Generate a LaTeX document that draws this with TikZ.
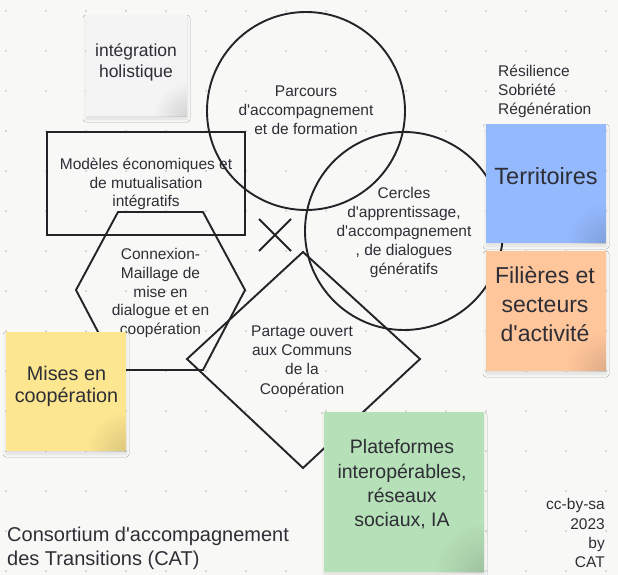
\documentclass[tikz,border=0pt]{standalone}
\usepackage{fontspec}
\setmainfont{Liberation Sans}[Ligatures=TeXOff]
\usetikzlibrary{shadows.blur,fadings}
\definecolor{bg}{HTML}{F8F8F6}
\definecolor{dotc}{HTML}{C6C6C6}
\definecolor{ink}{HTML}{232328}
\definecolor{txt}{HTML}{2E2E36}
\definecolor{notegray}{HTML}{F4F4F4}
\definecolor{noteblue}{HTML}{94B9FD}
\definecolor{notepeach}{HTML}{FFC69B}
\definecolor{noteyellow}{HTML}{FDE690}
\definecolor{notegreen}{HTML}{B6E0B7}
\tikzfading[name=cornerfade, inner color=transparent!0, outer color=transparent!100]
\begin{document}
\begin{tikzpicture}[x=1pt,y=-1pt,
  outline/.style={draw=ink, line width=1.9pt, line join=miter},
  lbl/.style={text=txt, font=\fontsize{15.5}{19}\selectfont, align=center, inner sep=0pt},
  note/.style={inner sep=0pt, draw=none,
    blur shadow={shadow xshift=0pt, shadow yshift=-3pt, shadow blur radius=3pt, shadow opacity=10}},
  notetxt/.style={text=txt, align=center, inner sep=0pt},
]
\fill[bg] (0,0) rectangle (618,575);
\useasboundingbox (0,0) rectangle (618,575);
\foreach \i in {0,...,15}{\foreach \j in {0,...,14}{\fill[dotc] (6+40*\i,11+40*\j) circle (1pt);}}

% circles
\node[outline, circle, minimum size=198pt, inner sep=0pt] (c1) at (306,111) {};
\node[lbl] (t1) at (306,110) {Parcours\\d'accompagnement\\et de formation};
\node[outline, circle, minimum size=198pt, inner sep=0pt] (c2) at (404,231) {};
\node[lbl] (t2) at (404,232.5) {Cercles\\d'apprentissage,\\d'accompagnement\\, de dialogues\\génératifs};

% rectangle
\node[outline, rectangle, minimum width=198pt, minimum height=103pt, inner sep=0pt] (r1) at (146,183.5) {};
\node[lbl, font=\fontsize{15.5}{18.4}\selectfont] (t3) at (146,184) {Modèles économiques et\\de mutualisation\\intégratifs};

% hexagon
\coordinate (h1) at (118,212);
\coordinate (h2) at (203,212);
\coordinate (h3) at (245,290);
\coordinate (h4) at (203,370);
\coordinate (h5) at (118,370);
\coordinate (h6) at (76,290);
\draw[outline] (h1) -- (h2) -- (h3) -- (h4) -- (h5) -- (h6) -- cycle;
\node[lbl, font=\fontsize{15.5}{18.8}\selectfont] (t4) at (160.5,293) {Connexion-\\Maillage de\\mise en\\dialogue et en\\coopération};

% diamond
\coordinate (d1) at (303,252);
\coordinate (d2) at (420,359);
\coordinate (d3) at (303,468);
\coordinate (d4) at (187,359);
\draw[outline] (d1) -- (d2) -- (d3) -- (d4) -- cycle;
\node[lbl, font=\fontsize{15.5}{19.4}\selectfont] (t5) at (302,361.5) {Partage ouvert\\aux Communs\\de la\\Coopération};

% cross
\coordinate (x1) at (259,219);
\coordinate (x2) at (291,251);
\coordinate (x3) at (291,219);
\coordinate (x4) at (259,251);
\draw[outline] (x1) -- (x2) (x3) -- (x4);

% sticky notes
\node[note, fill=notegray, minimum width=101pt, minimum height=101pt] (n1) at (136.5,65.5) {};
\node[note, fill=noteblue, minimum width=120pt, minimum height=119pt] (n2) at (546,183.5) {};
\node[note, fill=notepeach, minimum width=120pt, minimum height=120pt] (n3) at (546,311) {};
\node[note, fill=noteyellow, minimum width=120pt, minimum height=119pt] (n4) at (66,391.5) {};
\node[note, fill=notegreen, minimum width=160pt, minimum height=160pt] (n5) at (404,492) {};
\foreach \n/\r in {n1/34,n2/40,n3/40,n4/40,n5/50}{
  \begin{scope}
    \clip (\n.south west) rectangle (\n.north east);
    \fill[black, opacity=0.13, path fading=cornerfade] (\n.south east) circle (\r pt);
  \end{scope}
}
\node[notetxt, font=\fontsize{17.5}{21}\selectfont] (nt1) at (136,62) {intégration\\holistique};
\node[notetxt, font=\fontsize{23.5}{28}\selectfont] (nt2) at (546,176.5) {Territoires};
\node[notetxt, font=\fontsize{23}{29}\selectfont] (nt3) at (545,304.5) {Filières et\\secteurs\\d'activité};
\node[notetxt, font=\fontsize{19.8}{22.5}\selectfont] (nt4) at (66.5,386.5) {Mises en\\coopération};
\node[notetxt, font=\fontsize{19.5}{24.3}\selectfont] (nt5) at (402,484.5) {Plateformes\\interopérables,\\réseaux\\sociaux, IA};

% free texts
\node[text=txt, align=left, inner sep=0pt, anchor=north west, font=\fontsize{15.5}{19}\selectfont] (res) at (498,64.5) {Résilience\\Sobriété\\Régénération};
\node[text=txt, align=right, inner sep=0pt, anchor=north east, font=\fontsize{15.5}{19.3}\selectfont] (cc) at (605,498.5) {cc-by-sa\\2023\\by\\CAT};
\node[text=txt, align=left, inner sep=0pt, anchor=north west, font=\fontsize{20}{24}\selectfont] (cat) at (7,526.5) {Consortium d'accompagnement\\des Transitions (CAT)};
\end{tikzpicture}
\end{document}
